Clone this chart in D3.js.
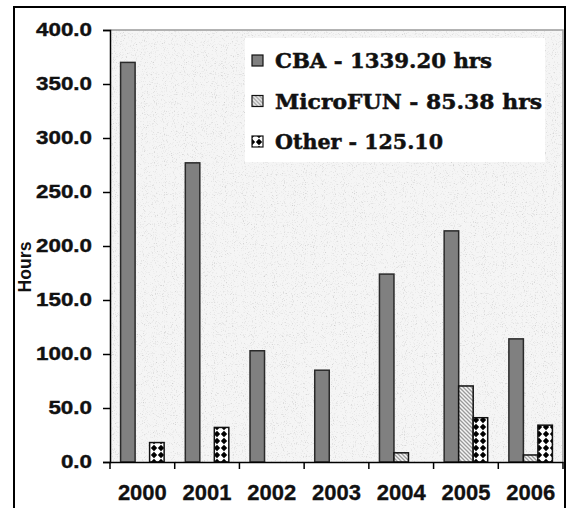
<!DOCTYPE html>
<html><head><meta charset="utf-8">
<script src="https://cdn.jsdelivr.net/npm/d3@7"></script>
<style>body{margin:0;background:#fff}svg{display:block}</style>
</head><body>
<script>
const years = ["2000","2001","2002","2003","2004","2005","2006"];
const seriesNames = ["CBA","MicroFUN","Other"];
const cba = [370, 277, 103, 85, 174, 214, 114];
const microfun = [0, 0, 0, 0, 8.5, 70.4, 6.5];
const other = [18, 32, 0, 0, 0, 41, 34.1];
const legendLabels = ["CBA - 1339.20 hrs","MicroFUN - 85.38 hrs","Other - 125.10"];
const yTicks = [0,50,100,150,200,250,300,350,400];
const yTitle = "Hours";

const W=568,H=508;
const svg=d3.select("body").append("svg").attr("width",W).attr("height",H);
const defs=svg.append("defs");
// speckled background filter
const f=defs.append("filter").attr("id","speck").attr("x",0).attr("y",0).attr("width",1).attr("height",1);
f.append("feTurbulence").attr("type","fractalNoise").attr("baseFrequency","0.9").attr("numOctaves",2).attr("seed",3).attr("result","n");
f.append("feColorMatrix").attr("in","n").attr("type","matrix")
 .attr("values","0 0 0 0 0.62  0 0 0 0 0.62  0 0 0 0 0.62  -3 0 0 0 1.3").attr("result","dots");
f.append("feFlood").attr("flood-color","#f5f5f5").attr("result","bg");
f.append("feComposite").attr("in","dots").attr("in2","bg").attr("operator","over");
// MicroFUN hatch
const p1=defs.append("pattern").attr("id","hatch").attr("patternUnits","userSpaceOnUse").attr("width",4).attr("height",4);
p1.append("rect").attr("width",4).attr("height",4).attr("fill","#f4f4f4");
p1.append("path").attr("d","M-1,-1 L5,5 M-1,3 L1,5 M3,-1 L5,1").attr("stroke","#9a9a9a").attr("stroke-width",1.3);
// Other dots
const p2=defs.append("pattern").attr("id","dots").attr("patternUnits","userSpaceOnUse").attr("width",7).attr("height",7);
p2.append("rect").attr("width",7).attr("height",7).attr("fill","#fff");
[[0,0],[7,0],[0,7],[7,7]].forEach(c=>p2.append("path").attr("d",`M${c[0]-3.2},${c[1]} L${c[0]},${c[1]-3.2} L${c[0]+3.2},${c[1]} L${c[0]},${c[1]+3.2}Z`).attr("fill","#000"));
const fills={CBA:"#808080",MicroFUN:"url(#hatch)",Other:"url(#dots)"};

const L=110,R=563,T=30,B=462;
const x=d3.scaleBand().domain(years).range([L,R]).paddingInner(0).paddingOuter(0);
const xs=d3.scaleBand().domain(seriesNames).range([0,x.bandwidth()]).paddingInner(0).paddingOuter(0.73);
const y=d3.scaleLinear().domain([0,400]).range([B,T]);

// outer border
svg.append("rect").attr("x",14).attr("y",7).attr("width",551).attr("height",510).attr("fill","none").attr("stroke","#000").attr("stroke-width",2);
// plot area
svg.append("rect").attr("x",L).attr("y",T).attr("width",R-L).attr("height",B-T).attr("filter","url(#speck)");
svg.append("path").attr("d",`M${L},${T}H${R}V${B}`).attr("fill","none").attr("stroke","#9a9a9a").attr("stroke-width",1.5);

const data=[cba,microfun,other];
seriesNames.forEach((s,si)=>{
  svg.append("g").selectAll("rect").data(years.map((yr,i)=>({yr,v:data[si][i]})).filter(d=>d.v>0))
   .join("rect")
   .attr("x",d=>x(d.yr)+xs(s)).attr("width",xs.bandwidth())
   .attr("y",d=>y(d.v)).attr("height",d=>B-y(d.v))
   .attr("fill",fills[s]).attr("stroke",si===0?"#2a2a2a":"#111").attr("stroke-width",1.5);
});

const sans="'Liberation Sans',Arial,sans-serif";
// y axis
const ya=svg.append("g").attr("transform",`translate(${L},0)`)
 .call(d3.axisLeft(y).tickValues(yTicks).tickFormat(d3.format(".1f")).tickSize(7).tickPadding(11));
ya.select(".domain").attr("stroke","#000").attr("stroke-width",1.5);
ya.selectAll(".tick line").attr("stroke","#000").attr("stroke-width",1.5);
ya.selectAll(".tick text").attr("font-family",sans).attr("font-weight","bold").attr("font-size",18.5).attr("fill","#111")
 .attr("stroke","#111").attr("stroke-width",0.4)
 .each(function(){const w=this.getComputedTextLength();d3.select(this).attr("textLength",w*1.21).attr("lengthAdjust","spacingAndGlyphs");});

// x axis
const xa=svg.append("g").attr("transform",`translate(0,${B})`)
 .call(d3.axisBottom(x).tickSize(0).tickPadding(22));
xa.select(".domain").attr("stroke","#000").attr("stroke-width",1.5);
xa.selectAll(".tick text").attr("font-family",sans).attr("font-weight","bold").attr("font-size",22).attr("fill","#111")
 .attr("stroke","#111").attr("stroke-width",0.3);
// category separator ticks
svg.append("g").selectAll("line").data(years.map(d=>x(d)).concat([R])).join("line")
 .attr("x1",d=>d).attr("x2",d=>d).attr("y1",B).attr("y2",B+7).attr("stroke","#000").attr("stroke-width",1.5);

// y title
svg.append("text").attr("transform","translate(31,267) rotate(-90)").attr("text-anchor","middle")
 .attr("font-family",sans).attr("font-weight","bold").attr("font-size",18).attr("fill","#111")
 .attr("textLength",51).attr("lengthAdjust","spacingAndGlyphs").text(yTitle);

// legend
svg.append("rect").attr("x",245).attr("y",38).attr("width",300).attr("height",124).attr("fill","#fff");
const lg=svg.append("g").selectAll("g").data(seriesNames).join("g")
 .attr("transform",(d,i)=>`translate(252,${68+i*40.5})`);
lg.append("rect").attr("x",0).attr("y",-13).attr("width",11).attr("height",11).attr("fill",d=>fills[d]).attr("stroke","#111").attr("stroke-width",1.2);
const legW=[217,267,168];
lg.append("text").attr("x",23).attr("y",0).attr("font-family","'DejaVu Serif','Liberation Serif',serif").attr("font-weight","bold").attr("font-size",21).attr("fill","#111")
 .attr("stroke","#111").attr("stroke-width",0.5)
 .text((d,i)=>legendLabels[i]).attr("textLength",(d,i)=>legW[i]).attr("lengthAdjust","spacingAndGlyphs");
</script>
</body></html>
